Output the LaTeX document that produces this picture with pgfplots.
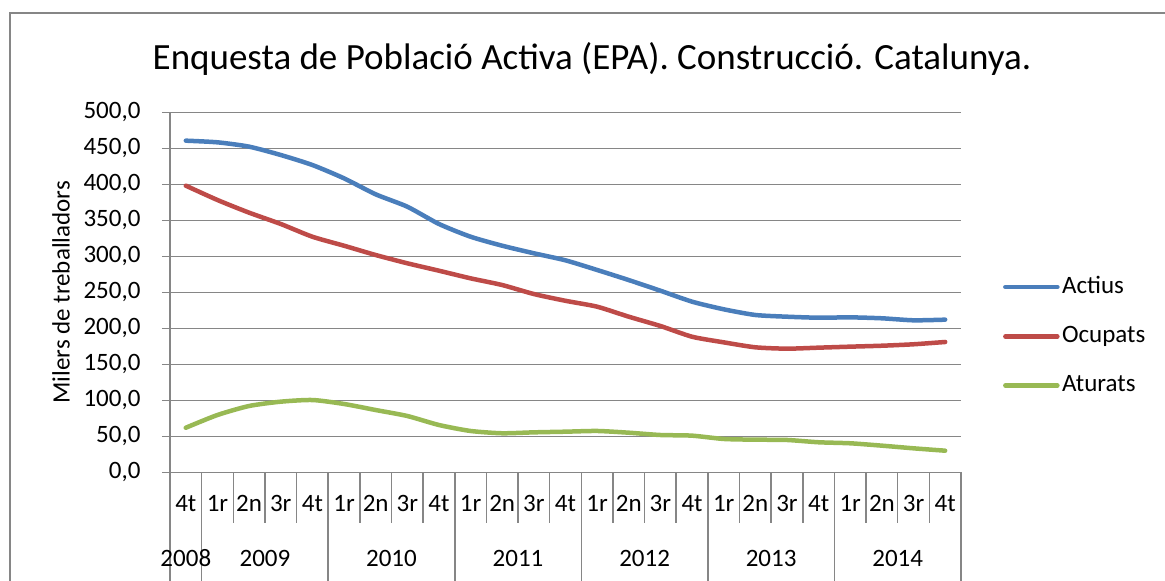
\documentclass[border=0pt]{standalone}
\usepackage{pgfplots}
\pgfplotsset{compat=1.18}
\usepackage{pgfplotstable}
\usepackage{fontspec}
\setmainfont{Carlito}
\definecolor{cA}{HTML}{4A7EBB}
\definecolor{cO}{HTML}{BE4B48}
\definecolor{cT}{HTML}{98B954}
\definecolor{gridg}{HTML}{868686}
\pgfplotstableread{
x act ocu atu
0 460.6 398.1 61.9
1 458.3 378.2 79.6
2 452.3 360.6 92.1
3 440.7 344.9 98.1
4 426.8 327.2 100.4
5 408.3 314.7 94.9
6 386.1 301.8 86.5
7 368.9 290.3 78.2
8 344.9 280.0 65.7
9 327.2 269.4 57.4
10 314.7 260.1 54.2
11 304.2 247.6 55.5
12 294.4 238.2 56.4
13 281.0 230.0 57.4
14 267.0 216.1 55.0
15 252.2 203.2 51.8
16 237.0 188.3 50.9
17 226.4 180.5 46.3
18 218.5 173.6 45.3
19 216.1 171.7 44.9
20 214.7 173.1 41.7
21 215.2 174.5 40.3
22 213.9 175.8 37.0
23 211.1 177.8 33.3
24 212.0 181.0 30.0
}\datatable
\begin{document}
\fontsize{25}{30}\selectfont
\begin{tikzpicture}
\useasboundingbox (0pt,0pt) rectangle (1165pt,581pt);
\draw[gridg, line width=1.5pt] (10pt,-20pt) -- (10pt,568pt) -- (1180pt,568pt);
\node[anchor=base, inner sep=0pt, font=\fontsize{37}{44}\selectfont] at (592pt,511.5pt) {Enquesta de Població Activa (EPA). Construcció. Catalunya.};
\begin{axis}[
  at={(170pt,108.7pt)}, anchor=south west,
  width=791pt, height=360pt, scale only axis,
  xmin=-0.5, xmax=24.5, ymin=0, ymax=500,
  axis x line*=bottom, axis y line*=left,
  axis line style={gridg, line width=1.5pt},
  ytick={0,50,...,500},
  ymajorgrids, grid style={gridg, line width=1.5pt},
  major tick style={gridg, line width=1.5pt},
  tick align=outside,
  major tick length=8pt,
  xtick=data,
  xtick style={draw=none},
  xticklabels={4t,1r,2n,3r,4t,1r,2n,3r,4t,1r,2n,3r,4t,1r,2n,3r,4t,1r,2n,3r,4t,1r,2n,3r,4t},
  xticklabel style={anchor=base, yshift=-31pt},
  yticklabel style={anchor=east, xshift=-13pt},
  /pgf/number format/assume math mode=true,
  /pgf/number format/.cd, fixed, fixed zerofill, precision=1, use comma, 1000 sep={},
  /pgfplots/.cd,
  ticklabel style={font=\fontsize{25}{30}\selectfont},
  ylabel={Milers de treballadors},
  ylabel style={at={(axis description cs:-0.1378,0.5)}, anchor=center, font=\fontsize{25}{30}\selectfont},
  clip=false,
  legend style={draw=none, fill=none, at={(1.053,0.379)}, anchor=west,
    font=\fontsize{25}{30}\selectfont, row sep=24pt, inner sep=0pt,
    nodes={inner sep=2.5pt}},
  legend cell align=left,
  legend image code/.code={\draw[#1, line width=4.5pt, line cap=round] (0pt,0pt) -- (52pt,0pt);},
]
\addplot[cA, line width=4.5pt, line cap=round, smooth, tension=0.4] table[x=x,y=act] {\datatable};
\addplot[cO, line width=4.5pt, line cap=round, smooth, tension=0.4] table[x=x,y=ocu] {\datatable};
\addplot[cT, line width=4.5pt, line cap=round, smooth, tension=0.4] table[x=x,y=atu] {\datatable};
\legend{Actius,Ocupats,Aturats}
\foreach \k in {1.5,2.5,3.5,5.5,6.5,7.5,9.5,10.5,11.5,13.5,14.5,15.5,17.5,18.5,19.5,21.5,22.5,23.5}{
  \edef\tmp{\noexpand\draw[gridg, line width=1.5pt] (axis cs:\k,0) -- ++(0pt,-51pt);}\tmp
}
\foreach \k in {-0.5,0.5,4.5,8.5,12.5,16.5,20.5,24.5}{
  \edef\tmp{\noexpand\draw[gridg, line width=1.5pt] (axis cs:\k,0) -- ++(0pt,-130pt);}\tmp
}
\foreach \k/\y in {0/2008,2.5/2009,6.5/2010,10.5/2011,14.5/2012,18.5/2013,22.5/2014}{
  \edef\tmp{\noexpand\node[anchor=base] at (axis cs:\k,0) [yshift=-94pt] {\y};}\tmp
}
\end{axis}
\end{tikzpicture}
\end{document}
